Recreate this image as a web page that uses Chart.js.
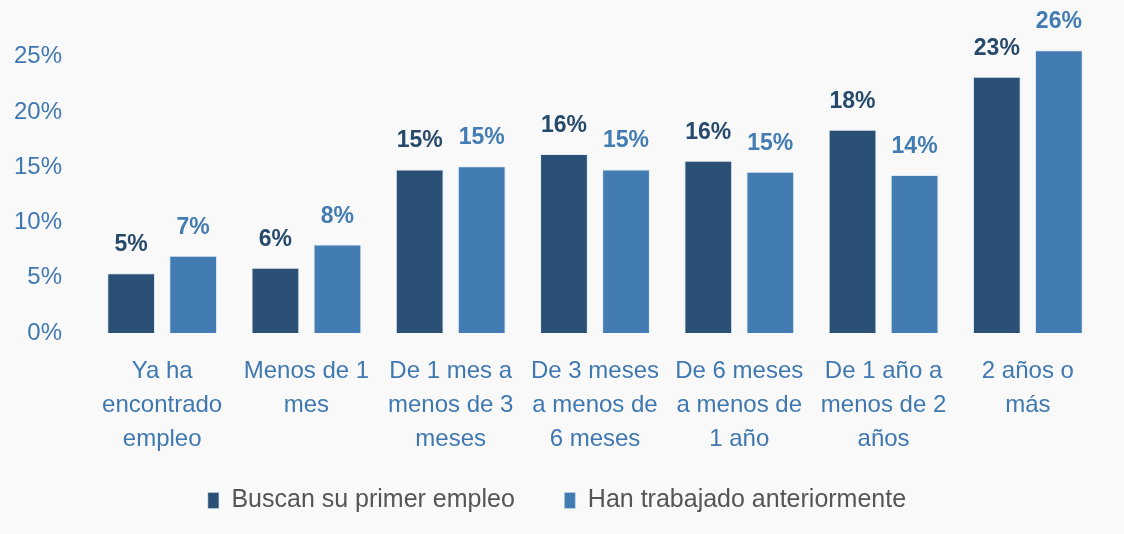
<!DOCTYPE html>
<html lang="es">
<head>
    <meta charset="UTF-8">
    <title>Tiempo buscando empleo</title>
    <style>
        body { margin: 0; background: #f9f9f9; }
        #wrap { width: 1124px; height: 534px; }
    </style>
</head>
<body>
    <div id="wrap">
        <canvas id="myChart"></canvas>
    </div>

    <script src="https://cdn.jsdelivr.net/npm/chart.js"></script>
    <script>
        const categories = [
            ['Ya ha', 'encontrado', 'empleo'],
            ['Menos de 1', 'mes'],
            ['De 1 mes a', 'menos de 3', 'meses'],
            ['De 3 meses', 'a menos de', '6 meses'],
            ['De 6 meses', 'a menos de', '1 año'],
            ['De 1 año a', 'menos de 2', 'años'],
            ['2 años o', 'más']
        ];
        const primerEmpleo = [0.054, 0.059, 0.148, 0.162, 0.156, 0.184, 0.232];
        const trabajadoAntes = [0.070, 0.080, 0.151, 0.148, 0.146, 0.143, 0.256];
        const yTicks = [0, 0.05, 0.10, 0.15, 0.20, 0.25];

        const dark = '#2a5075';
        const light = '#427cb2';
        const fam = '"Liberation Sans", Arial, sans-serif';

        // etiquetas de valor encima de cada barra
        const valueLabels = {
            id: 'valueLabels',
            afterDatasetsDraw(chart) {
                const c = chart.ctx;
                c.save();
                c.font = 'bold 23px ' + fam;
                c.textAlign = 'center';
                c.textBaseline = 'alphabetic';
                chart.data.datasets.forEach((ds, i) => {
                    c.fillStyle = i === 0 ? '#274a6c' : light;
                    chart.getDatasetMeta(i).data.forEach((bar, j) => {
                        c.fillText(Math.round(ds.data[j] * 100) + '%', bar.x, bar.y - 22);
                    });
                });
                c.restore();
            }
        };

        const ctx = document.getElementById('myChart');
        new Chart(ctx, {
            type: 'bar',
            data: {
                labels: categories,
                datasets: [{
                    label: 'Buscan su primer empleo',
                    data: primerEmpleo,
                    backgroundColor: dark,
                    borderColor: 'rgba(200,220,240,0.5)',
                    borderWidth: 1
                }, {
                    label: 'Han trabajado anteriormente',
                    data: trabajadoAntes,
                    backgroundColor: light,
                    borderColor: 'rgba(200,220,240,0.5)',
                    borderWidth: 1
                }]
            },
            options: {
                responsive: true,
                maintainAspectRatio: false,
                animation: false,
                categoryPercentage: 0.86,
                barPercentage: 0.77,
                layout: { padding: { left: 14, right: 24, top: 27, bottom: 11 } },
                scales: {
                    y: {
                        min: 0,
                        max: 0.263,
                        afterBuildTicks(axis) {
                            axis.ticks = yTicks.map(v => ({ value: v }));
                        },
                        afterFit(axis) {
                            axis.width = 76;
                        },
                        grid: { display: false, drawTicks: false },
                        border: { display: false },
                        ticks: {
                            padding: 28,
                            color: '#3f78b0',
                            font: { size: 24, family: fam },
                            callback: v => Math.round(v * 100) + '%'
                        }
                    },
                    x: {
                        afterFit(axis) {
                            axis.paddingLeft = 0;
                            axis.paddingRight = 0;
                            axis.height = 143;
                        },
                        grid: { display: false, drawTicks: false },
                        border: { display: false },
                        ticks: {
                            padding: 21,
                            maxRotation: 0,
                            autoSkip: false,
                            color: '#3f78b0',
                            font: { size: 24, family: fam, lineHeight: 1.42 }
                        }
                    }
                },
                plugins: {
                    legend: {
                        position: 'bottom',
                        labels: {
                            boxWidth: 11,
                            boxHeight: 16,
                            padding: 12,
                            color: '#555555',
                            font: { size: 25, family: fam },
                            // más separación entre las dos entradas
                            generateLabels(chart) {
                                const items = Chart.defaults.plugins.legend.labels.generateLabels(chart);
                                items[0].text += '\u2002\u2002\u2002';
                                return items;
                            }
                        }
                    },
                    tooltip: { enabled: false }
                }
            },
            plugins: [valueLabels]
        });
    </script>
</body>
</html>
